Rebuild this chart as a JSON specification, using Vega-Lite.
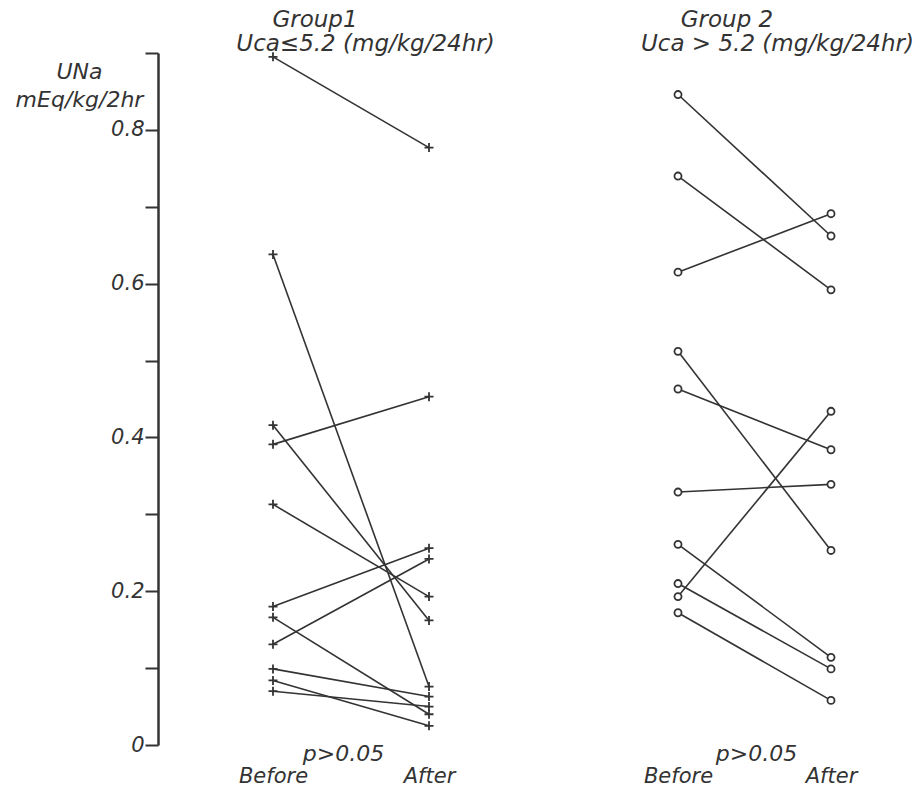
{
  "$schema": "https://vega.github.io/schema/vega-lite/v6.json",
  "background": "white",
  "padding": {"left": 15, "top": 9, "right": 0, "bottom": 0},
  "spacing": 0,
  "bounds": "flush",
  "datasets": {
    "g1": [
      {"id": 1, "time": "Before", "value": 0.895}, {"id": 1, "time": "After", "value": 0.777},
      {"id": 2, "time": "Before", "value": 0.638}, {"id": 2, "time": "After", "value": 0.076},
      {"id": 3, "time": "Before", "value": 0.416}, {"id": 3, "time": "After", "value": 0.162},
      {"id": 4, "time": "Before", "value": 0.391}, {"id": 4, "time": "After", "value": 0.453},
      {"id": 5, "time": "Before", "value": 0.313}, {"id": 5, "time": "After", "value": 0.193},
      {"id": 6, "time": "Before", "value": 0.180}, {"id": 6, "time": "After", "value": 0.256},
      {"id": 7, "time": "Before", "value": 0.166}, {"id": 7, "time": "After", "value": 0.040},
      {"id": 8, "time": "Before", "value": 0.131}, {"id": 8, "time": "After", "value": 0.242},
      {"id": 9, "time": "Before", "value": 0.099}, {"id": 9, "time": "After", "value": 0.063},
      {"id": 10, "time": "Before", "value": 0.084}, {"id": 10, "time": "After", "value": 0.025},
      {"id": 11, "time": "Before", "value": 0.070}, {"id": 11, "time": "After", "value": 0.050}
    ],
    "g2": [
      {"id": 1, "time": "Before", "value": 0.846}, {"id": 1, "time": "After", "value": 0.662},
      {"id": 2, "time": "Before", "value": 0.740}, {"id": 2, "time": "After", "value": 0.592},
      {"id": 3, "time": "Before", "value": 0.615}, {"id": 3, "time": "After", "value": 0.691},
      {"id": 4, "time": "Before", "value": 0.512}, {"id": 4, "time": "After", "value": 0.253},
      {"id": 5, "time": "Before", "value": 0.463}, {"id": 5, "time": "After", "value": 0.384},
      {"id": 6, "time": "Before", "value": 0.329}, {"id": 6, "time": "After", "value": 0.339},
      {"id": 7, "time": "Before", "value": 0.261}, {"id": 7, "time": "After", "value": 0.114},
      {"id": 8, "time": "Before", "value": 0.210}, {"id": 8, "time": "After", "value": 0.099},
      {"id": 9, "time": "Before", "value": 0.193}, {"id": 9, "time": "After", "value": 0.434},
      {"id": 10, "time": "Before", "value": 0.172}, {"id": 10, "time": "After", "value": 0.058}
    ]
  },
  "config": {
    "view": {"stroke": null},
    "font": "DejaVu Sans",
    "axis": {
      "labelFont": "DejaVu Sans", "titleFont": "DejaVu Sans",
      "labelFontStyle": "italic", "titleFontStyle": "italic",
      "titleFontWeight": "normal", "labelColor": "#333", "titleColor": "#333",
      "domainColor": "#333", "tickColor": "#333", "grid": false
    },
    "title": {"font": "DejaVu Sans", "fontStyle": "italic", "fontWeight": "normal", "color": "#333", "fontSize": 23}
  },
  "hconcat": [
    {
      "width": 400,
      "height": 692,
      "title": {"text": "Group1", "anchor": "start", "frame": "group", "align": "center", "dx": 157, "offset": 0},
      "data": {"name": "g1"},
      "layer": [
        {
          "mark": {"type": "line", "color": "#333", "strokeWidth": 1.6},
          "encoding": {
            "x": {
              "field": "time", "type": "nominal", "sort": ["Before", "After"],
              "scale": {"type": "point", "domain": ["Before", "After"], "range": [115, 271], "padding": 0},
              "axis": {"orient": "bottom", "title": "p>0.05", "domain": false, "ticks": false, "labelAngle": 0,
                       "labelFontSize": 21, "labelPadding": 20, "titleFontSize": 22,
                       "titleX": 185, "titleY": 8, "titleBaseline": "middle", "titleAlign": "center"}
            },
            "y": {
              "field": "value", "type": "quantitative",
              "scale": {"domain": [0, 0.9], "nice": false, "zero": true},
              "axis": {
                "values": [0, 0.1, 0.2, 0.3, 0.4, 0.5, 0.6, 0.7, 0.8, 0.9],
                "labelExpr": "datum.value == 0 ? '0' : (round(datum.value * 10) % 2 == 0 ? format(datum.value, '.1f') : '')",
                "tickSize": 13, "tickWidth": 2, "domainWidth": 2.5,
                "labelFontSize": 21, "labelPadding": 1,
                "title": ["UNa", "mEq/kg/2hr"], "titleAngle": 0, "titleAlign": "center", "titleBaseline": "top",
                "titleX": -79, "titleY": 8, "titleFontSize": 22, "titleLineHeight": 28
              }
            },
            "detail": {"field": "id"}
          }
        },
        {
          "mark": {"type": "point", "shape": "M-1,0L1,0M0,-1L0,1", "size": 81, "filled": false, "stroke": "#333", "strokeWidth": 1.8, "opacity": 1},
          "encoding": {
            "x": {
              "field": "time", "type": "nominal", "sort": ["Before", "After"],
              "scale": {"type": "point", "domain": ["Before", "After"], "range": [115, 271], "padding": 0},
              "axis": {"orient": "top", "title": "Uca≤5.2 (mg/kg/24hr)", "labels": false, "ticks": false, "domain": false,
                       "titleFontSize": 23, "titleX": 207, "titleY": -10, "titleBaseline": "middle", "titleAlign": "center"}
            },
            "y": {"field": "value", "type": "quantitative"}
          }
        }
      ],
      "resolve": {"axis": {"x": "independent"}}
    },
    {
      "width": 300,
      "height": 692,
      "title": {"text": "Group 2", "anchor": "start", "frame": "group", "align": "center", "dx": 169, "offset": 0},
      "data": {"name": "g2"},
      "layer": [
        {
          "mark": {"type": "line", "color": "#333", "strokeWidth": 1.6},
          "encoding": {
            "x": {
              "field": "time", "type": "nominal", "sort": ["Before", "After"],
              "scale": {"type": "point", "domain": ["Before", "After"], "range": [120, 273], "padding": 0},
              "axis": {"orient": "bottom", "title": "p>0.05", "domain": false, "ticks": false, "labelAngle": 0,
                       "labelFontSize": 21, "labelPadding": 20, "titleFontSize": 22,
                       "titleX": 198, "titleY": 8, "titleBaseline": "middle", "titleAlign": "center"}
            },
            "y": {
              "field": "value", "type": "quantitative",
              "scale": {"domain": [0, 0.9], "nice": false, "zero": true},
              "axis": null
            },
            "detail": {"field": "id"}
          }
        },
        {
          "mark": {"type": "point", "shape": "circle", "size": 50, "filled": true, "fill": "white", "stroke": "#333", "strokeWidth": 1.8, "opacity": 1},
          "encoding": {
            "x": {
              "field": "time", "type": "nominal", "sort": ["Before", "After"],
              "scale": {"type": "point", "domain": ["Before", "After"], "range": [120, 273], "padding": 0},
              "axis": {"orient": "top", "title": "Uca > 5.2 (mg/kg/24hr)", "labels": false, "ticks": false, "domain": false,
                       "titleFontSize": 23, "titleX": 219, "titleY": -10, "titleBaseline": "middle", "titleAlign": "center"}
            },
            "y": {"field": "value", "type": "quantitative"}
          }
        }
      ],
      "resolve": {"axis": {"x": "independent"}}
    }
  ]
}
